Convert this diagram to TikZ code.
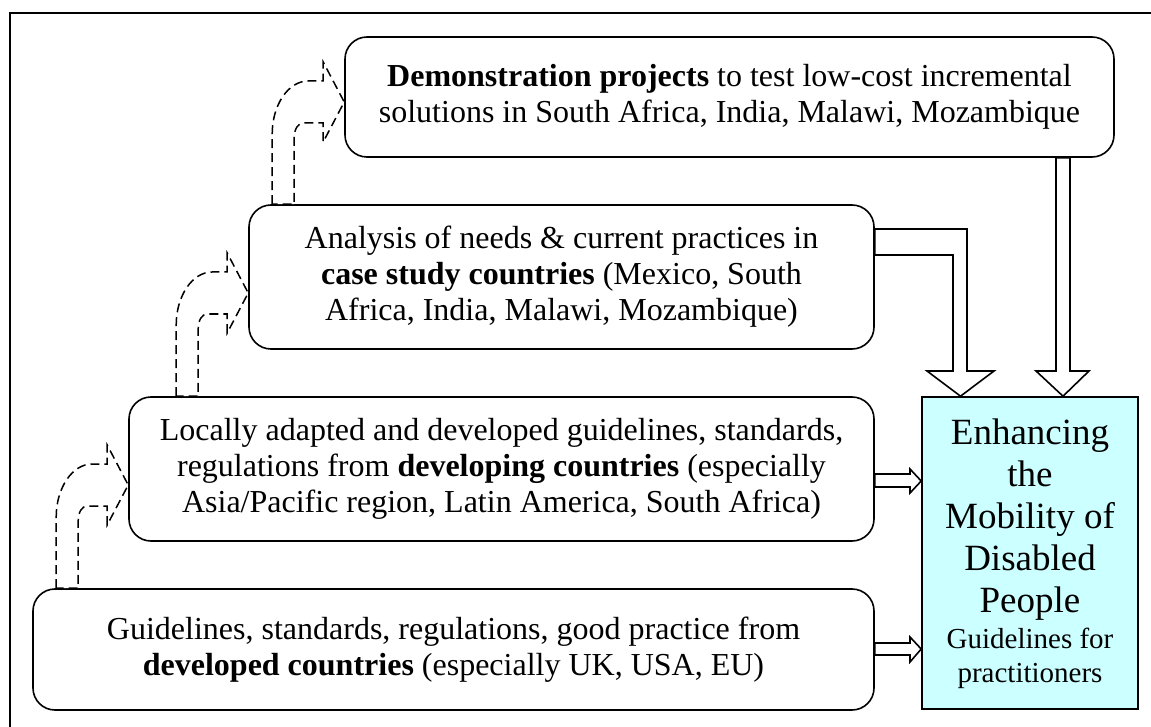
\documentclass[tikz,border=0pt]{standalone}
\usepackage{fontspec}
\setmainfont{Liberation Serif}
\usetikzlibrary{calc}
\definecolor{ecyan}{RGB}{204,255,255}
\tikzset{
  box/.style={draw, line width=1.6pt, rounded corners=22pt, inner sep=0pt, align=center,
    font=\fontsize{32}{36}\selectfont},
  goalbox/.style={draw, line width=1.6pt, fill=ecyan, inner sep=0pt},
  hollow/.style={draw, line width=1.6pt, fill=white, line join=miter},
  dasharrow/.style={draw, line width=1.5pt, fill=white, dash pattern=on 9pt off 5pt},
  bigtext/.style={inner sep=0pt, align=center, font=\fontsize{37}{42}\selectfont},
  smalltext/.style={inner sep=0pt, align=center, font=\fontsize{29}{34}\selectfont},
}
\newcommand{\bentarrow}[2]{%
  \begin{scope}[shift={(#2)}]
  \draw[dasharrow] (-72,0 |- #1.north) -- (-72,32)
    .. controls (-72,3) and (-56,-21) .. (-36,-21) -- (-21,-21) -- (-21,-40)
    -- (0,0) -- (-21,40) -- (-21,21) -- (-41,21)
    .. controls (-46,21) and (-50,27) .. (-50,36) -- (-50,0 |- #1.north) -- cycle;
  \end{scope}}
\begin{document}
\begin{tikzpicture}[x=1pt,y=-1pt]
\useasboundingbox (0,0) rectangle (1151,727);
\clip (0,0) rectangle (1151,727);
\draw[line width=1.6pt] (10,13) rectangle (1200,800);

\node[box, minimum width=769pt, minimum height=120pt] (D) at (729.5,97)
  {\textbf{Demonstration projects} to test low-cost incremental\\solutions in South Africa, India, Malawi, Mozambique};
\node[box, minimum width=625pt, minimum height=144pt] (C) at (561.5,277)
  {Analysis of needs \& current practices in\\\textbf{case study countries} (Mexico, South\\Africa, India, Malawi, Mozambique)};
\node[box, minimum width=745pt, minimum height=144pt] (B) at (501.5,469)
  {Locally adapted and developed guidelines, standards,\\regulations from \textbf{developing countries} (especially\\Asia/Pacific region, Latin America, South Africa)};
\node[box, minimum width=841pt, minimum height=121pt] (A) at (453.5,649.5)
  {Guidelines, standards, regulations, good practice from\\\textbf{developed countries} (especially UK, USA, EU)};
\node[goalbox, minimum width=216pt, minimum height=312pt] (E) at (1030,553) {};
\node[bigtext, anchor=base] (E1) at (1030,612) {Enhancing\\the\\Mobility of\\Disabled\\People};
\node[smalltext, anchor=base] (E2) at (1030,682) {Guidelines for\\practitioners};

% hollow arrows into E
\draw[hollow] (1056,0 |- D.south) -- (1056,371) -- (1036,371) -- (1063,0 |- E.north)
  -- (1089,371) -- (1070,371) -- (1070,0 |- D.south) -- cycle;
\draw[hollow] (C.east |- 0,229) -- (967,229) -- (967,371) -- (994,371) -- (960.5,0 |- E.north)
  -- (927,371) -- (953,371) -- (953,255) -- (C.east |- 0,255) -- cycle;
\draw[hollow] (B.east |- 0,474) -- (910,474) -- (910,469) -- (E.west |- 0,481)
  -- (910,493) -- (910,487) -- (B.east |- 0,487) -- cycle;
\draw[hollow] (A.east |- 0,643) -- (910,643) -- (910,637) -- (E.west |- 0,649)
  -- (910,662) -- (910,655) -- (A.east |- 0,655) -- cycle;

% dashed bent arrows
\coordinate (t1) at (D.west |- 0,102);
\coordinate (t2) at (C.west |- 0,293);
\coordinate (t3) at (B.west |- 0,485);
\bentarrow{C}{t1}
\bentarrow{B}{t2}
\bentarrow{A}{t3}
\end{tikzpicture}
\end{document}
